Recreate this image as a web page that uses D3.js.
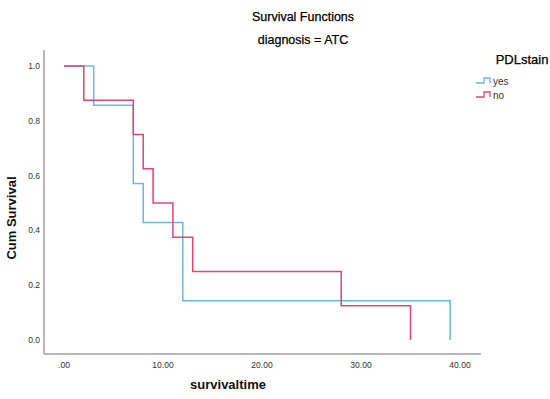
<!DOCTYPE html>
<html>
<head>
<meta charset="utf-8">
<script src="https://cdn.jsdelivr.net/npm/d3@7"></script>
<style>
  body { margin: 0; background: #fff; }
  svg { display: block; font-family: Arial, "Liberation Sans", sans-serif; }
</style>
</head>
<body>
<div id="chart"></div>
<script>
// ---- data ----
const groups = ['yes', 'no'];
// step times and survival after each step
const yesTimes = [0, 3, 7, 8, 12, 39];
const yesSurv  = [1.0, 0.857, 0.571, 0.429, 0.143, 0.0];
const noTimes  = [0, 2, 7, 8, 9, 11, 13, 28, 35];
const noSurv   = [1.0, 0.875, 0.75, 0.625, 0.5, 0.375, 0.25, 0.125, 0.0];
const xTicks = [0, 10, 20, 30, 40];
const yTicks = [0.0, 0.2, 0.4, 0.6, 0.8, 1.0];

const colors = { yes: '#6cb6e6', no: '#e2466e' };

const width = 550, height = 399;
const svg = d3.select('#chart').append('svg')
  .attr('width', width)
  .attr('height', height);

// scales
const x = d3.scaleLinear().domain([0, 40]).range([64, 460]);
const y = d3.scaleLinear().domain([0, 1]).range([340, 66]);

// axis frame lines
svg.append('line')
  .attr('x1', 44).attr('x2', 44).attr('y1', 50).attr('y2', 354)
  .attr('stroke', '#a0a0a0').attr('stroke-width', 1.5);
svg.append('line')
  .attr('x1', 44).attr('x2', 481).attr('y1', 354).attr('y2', 354)
  .attr('stroke', '#a0a0a0').attr('stroke-width', 1.5);

// tick labels
svg.selectAll('.ytick').data(yTicks).enter().append('text')
  .attr('class', 'ytick')
  .attr('x', 40).attr('y', d => y(d) + 3)
  .attr('text-anchor', 'end')
  .attr('font-size', 8.5).attr('fill', '#333')
  .text(d => d.toFixed(1));

svg.selectAll('.xtick').data(xTicks).enter().append('text')
  .attr('class', 'xtick')
  .attr('x', d => x(d)).attr('y', 368)
  .attr('text-anchor', 'middle')
  .attr('font-size', 8.5).attr('fill', '#333')
  .text(d => d === 0 ? '.00' : d.toFixed(2));

// step lines
function stepPoints(times, surv) {
  const pts = [[times[0], surv[0]]];
  for (let i = 1; i < times.length; i++) {
    pts.push([times[i], surv[i - 1]]);
    pts.push([times[i], surv[i]]);
  }
  return pts;
}
const line = d3.line().x(d => x(d[0])).y(d => y(d[1]));

const series = [
  { name: 'yes', pts: stepPoints(yesTimes, yesSurv) },
  { name: 'no',  pts: stepPoints(noTimes, noSurv) }
];

svg.selectAll('.km').data(series).enter().append('path')
  .attr('class', 'km')
  .attr('d', d => line(d.pts))
  .attr('fill', 'none')
  .attr('stroke', d => colors[d.name])
  .attr('stroke-width', 1.5);

// titles
svg.append('text')
  .attr('x', 303).attr('y', 21)
  .attr('text-anchor', 'middle')
  .attr('font-size', 12.5).attr('fill', '#000')
  .attr('stroke', '#000').attr('stroke-width', 0.25)
  .text('Survival Functions');
svg.append('text')
  .attr('x', 303).attr('y', 44)
  .attr('text-anchor', 'middle')
  .attr('font-size', 12.5).attr('fill', '#000')
  .attr('stroke', '#000').attr('stroke-width', 0.25)
  .text('diagnosis = ATC');

// axis titles
svg.append('text')
  .attr('transform', 'translate(16,218) rotate(-90)')
  .attr('text-anchor', 'middle')
  .attr('font-size', 13).attr('font-weight', 'bold').attr('fill', '#111')
  .text('Cum Survival');
svg.append('text')
  .attr('x', 228).attr('y', 389)
  .attr('text-anchor', 'middle')
  .attr('font-size', 13).attr('font-weight', 'bold').attr('fill', '#111')
  .text('survivaltime');

// legend
svg.append('text')
  .attr('x', 522).attr('y', 64)
  .attr('text-anchor', 'middle')
  .attr('font-size', 13).attr('fill', '#000')
  .attr('stroke', '#000').attr('stroke-width', 0.25)
  .text('PDLstain');

const legend = svg.selectAll('.leg').data(groups).enter().append('g')
  .attr('class', 'leg')
  .attr('transform', (d, i) => `translate(476,${83 + i * 14})`);
legend.append('path')
  .attr('d', 'M0,0 H8 V-5 H14 V0')
  .attr('fill', 'none')
  .attr('stroke', d => colors[d])
  .attr('stroke-width', 1.3);
legend.append('text')
  .attr('x', 17).attr('y', 2)
  .attr('font-size', 10).attr('fill', '#333')
  .text(d => d);
</script>
</body>
</html>
